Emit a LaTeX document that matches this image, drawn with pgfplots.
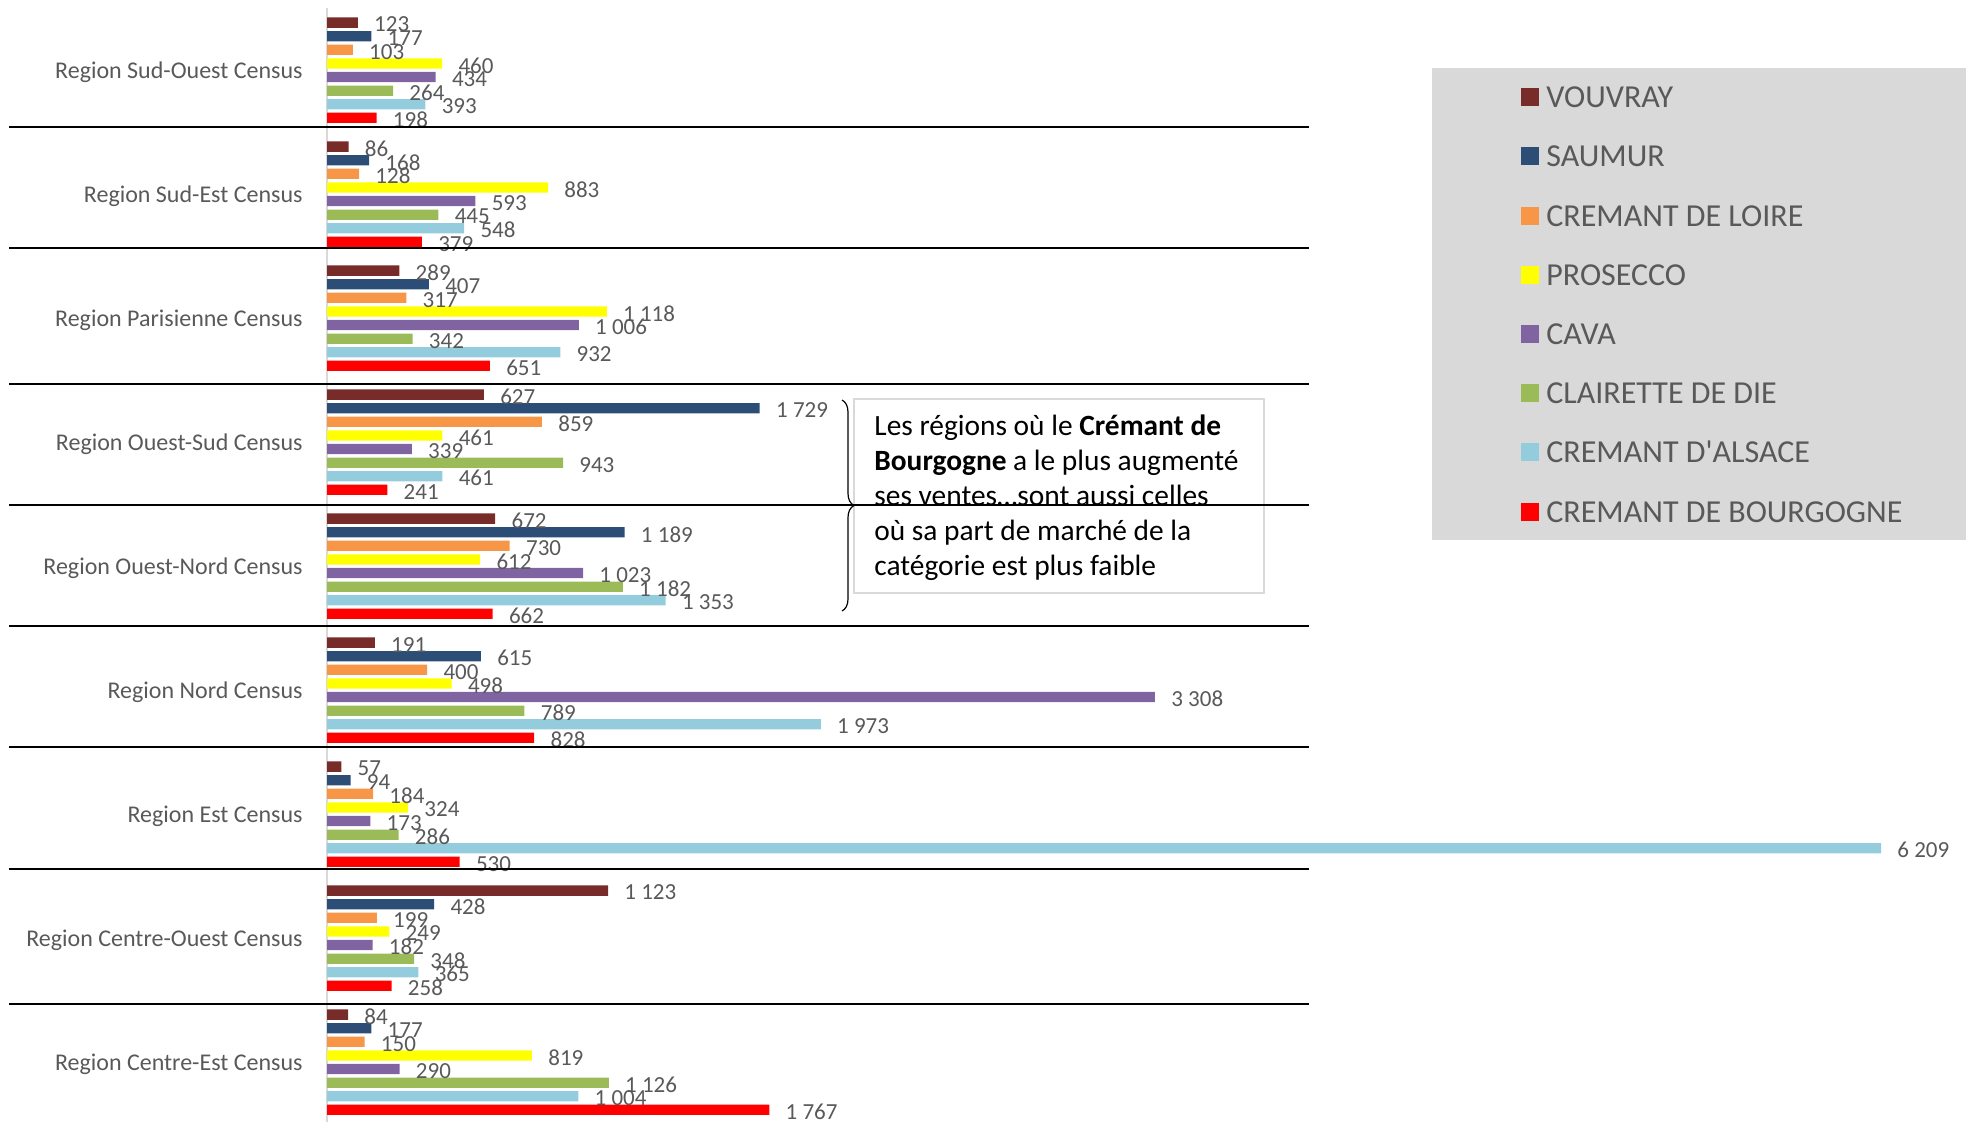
\documentclass[border=0pt]{standalone}
\usepackage{pgfplots}
\pgfplotsset{compat=1.18}
\usepackage{fontspec}
\setmainfont{Carlito}
\usetikzlibrary{decorations.pathreplacing}
\definecolor{cVou}{HTML}{772C2A}
\definecolor{cSau}{HTML}{2C4D75}
\definecolor{cLoi}{HTML}{F79646}
\definecolor{cPro}{HTML}{FFFF00}
\definecolor{cCav}{HTML}{8064A2}
\definecolor{cCla}{HTML}{9BBB59}
\definecolor{cAls}{HTML}{93CDDD}
\definecolor{cBou}{HTML}{FF0000}
\definecolor{labelgray}{HTML}{595959}
\definecolor{legendgray}{HTML}{D9D9D9}
\definecolor{axisgray}{HTML}{D9D9D9}
\begin{document}
\begin{tikzpicture}
\path[use as bounding box] (0pt,0pt) rectangle (983pt,-560.5pt);
\fill[legendgray] (716pt,-34pt) rectangle (990pt,-270pt);
\begin{axis}[
  at={(163.5pt,-4.1pt)}, anchor=north west,
  scale only axis, width=777pt, height=558pt,
  xbar, bar width=0.083,
  xmin=0, xmax=6209,
  ymin=-0.5, ymax=8.5, y dir=reverse,
  axis x line=none,
  axis y line*=left,
  y axis line style={draw=axisgray, line width=0.9pt},
  ytick={0,1,2,3,4,5,6,7,8},
  yticklabels={Region Sud-Ouest Census, Region Sud-Est Census, Region Parisienne Census, Region Ouest-Sud Census, Region Ouest-Nord Census, Region Nord Census, Region Est Census, Region Centre-Ouest Census, Region Centre-Est Census},
  major tick length=0pt, ytick style={draw=none},
  yticklabel style={font=\fontsize{12}{14}\selectfont, text=labelgray, inner sep=0pt, anchor=east, yshift=-1.2pt},
  yticklabel shift=12pt,
  clip=false,
  point meta=x,
  /pgf/number format/.cd, 1000 sep={\ }, assume math mode=true, /pgfplots/.cd,
  nodes near coords,
  every node near coord/.append style={font=\fontsize{11.5}{13}\selectfont, text=labelgray, anchor=west, inner sep=0pt, xshift=8pt, yshift=-1pt},
  legend image code/.code={\fill[#1] (0pt,-4.35pt) rectangle (9pt,4.65pt);},
  legend cell align=left,
  legend style={at={(axis description cs:0.76834,0.92966)}, anchor=north west, draw=none, fill=none, inner sep=0pt,
    font=\fontsize{16}{18}\selectfont, text=labelgray, row sep=19.3pt,
    nodes={inner xsep=3.5pt, inner ysep=0pt, text height=10.3pt, text depth=0pt}},
]
\addplot[fill=cVou, draw=none, bar shift=-0.384] coordinates {(123,0) (86,1) (289,2) (627,3) (672,4) (191,5) (57,6) (1123,7) (84,8)};
\addlegendentry{VOUVRAY}
\addplot[fill=cSau, draw=none, bar shift=-0.274] coordinates {(177,0) (168,1) (407,2) (1729,3) (1189,4) (615,5) (94,6) (428,7) (177,8)};
\addlegendentry{SAUMUR}
\addplot[fill=cLoi, draw=none, bar shift=-0.165] coordinates {(103,0) (128,1) (317,2) (859,3) (730,4) (400,5) (184,6) (199,7) (150,8)};
\addlegendentry{CREMANT DE LOIRE}
\addplot[fill=cPro, draw=none, bar shift=-0.055] coordinates {(460,0) (883,1) (1118,2) (461,3) (612,4) (498,5) (324,6) (249,7) (819,8)};
\addlegendentry{PROSECCO}
\addplot[fill=cCav, draw=none, bar shift=0.055] coordinates {(434,0) (593,1) (1006,2) (339,3) (1023,4) (3308,5) (173,6) (182,7) (290,8)};
\addlegendentry{CAVA}
\addplot[fill=cCla, draw=none, bar shift=0.165] coordinates {(264,0) (445,1) (342,2) (943,3) (1182,4) (789,5) (286,6) (348,7) (1126,8)};
\addlegendentry{CLAIRETTE DE DIE}
\addplot[fill=cAls, draw=none, bar shift=0.274] coordinates {(393,0) (548,1) (932,2) (461,3) (1353,4) (1973,5) (6209,6) (365,7) (1004,8)};
\addlegendentry{CREMANT D\textquotesingle ALSACE}
\addplot[fill=cBou, draw=none, bar shift=0.384] coordinates {(198,0) (379,1) (651,2) (241,3) (662,4) (828,5) (530,6) (258,7) (1767,8)};
\addlegendentry{CREMANT DE BOURGOGNE}
\end{axis}
% annotation box
\draw[legendgray, line width=1pt] (427pt,-199.5pt) rectangle (632pt,-296.5pt);
\begin{scope}[every node/.style={anchor=base west, inner sep=0pt, font=\fontsize{14.7}{17}\selectfont}]
\node at (437pt,-217.5pt) {Les régions où le \textbf{Crémant de}};
\node at (437pt,-235pt) {\textbf{Bourgogne} a le plus augmenté};
\node at (437pt,-252.5pt) {ses ventes…sont aussi celles};
\node at (437pt,-270pt) {où sa part de marché de la};
\node at (437pt,-287.5pt) {catégorie est plus faible};
\end{scope}
% separators
\foreach \yy in {63.3,124.15,191.85,252.65,312.8,373.65,434.45,502.15}{
  \draw[black, line width=1pt] (4.5pt,-\yy pt) -- (654.5pt,-\yy pt);
}
% brace
\draw[black, line width=0.6pt, decorate, decoration={brace, amplitude=6pt}] (421pt,-200pt) -- (421pt,-305.5pt);
\end{tikzpicture}
\end{document}
